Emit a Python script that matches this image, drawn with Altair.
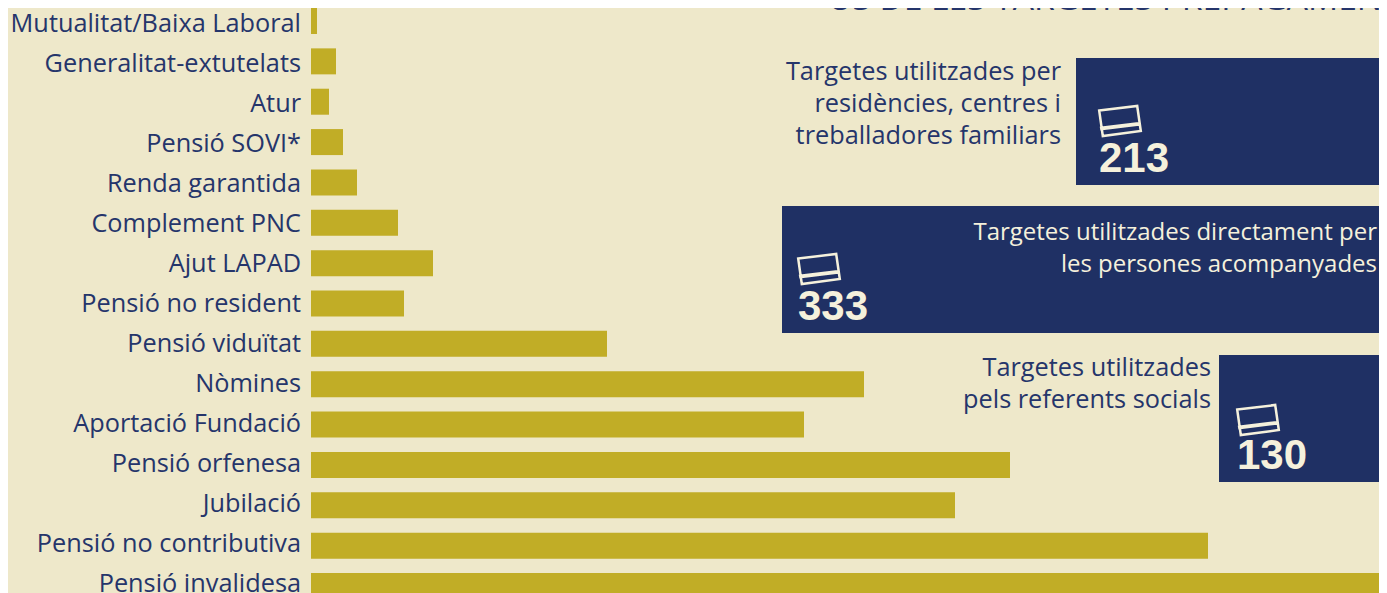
import altair as alt
import pandas as pd

categories = ["Mutualitat/Baixa Laboral", "Generalitat-extutelats", "Atur", "Pensió SOVI*",
              "Renda garantida", "Complement PNC", "Ajut LAPAD", "Pensió no resident",
              "Pensió viduïtat", "Nòmines", "Aportació Fundació", "Pensió orfenesa",
              "Jubilació", "Pensió no contributiva", "Pensió invalidesa"]
values = [6, 25, 18, 32, 46, 87, 122, 93, 296, 553, 493, 699, 644, 897, 1200]
section_title = "ÚS DE LES TARGETES PREPAGAMENT"
card_texts = ["Targetes utilitzades per\nresidències, centres i\ntreballadores familiars",
              "Targetes utilitzades directament per\nles persones acompanyades",
              "Targetes utilitzades\npels referents socials"]
card_counts = ["213", "333", "130"]

BG = "#EEE8CA"
BAR = "#C1AD26"
NAVY = "#1F3064"
INK = "#25356B"
CREAM = "#F5F1DC"
FONT = "Open Sans"
FS = 25.3
OX, OY = 311, 8   # plot area's origin on the page
RIGHT = 1379      # the page's margin starts here
TOTAL_W, TOTAL_H = RIGHT - OX, 585

CARD = ("M-.52,-.26L.43,-.375L.52,.25L-.43,.375Z"
        "M-.47,.17L.49,.055L.495,.085L-.465,.20Z")

df = pd.DataFrame({"cat": categories, "val": values})

bars = alt.Chart(df).mark_bar(color=BAR, clip=True).encode(
    x=alt.X("val:Q", axis=None, scale=alt.Scale(domain=[0, TOTAL_W], nice=False, zero=True)),
    y=alt.Y("cat:N", sort=categories, title=None, axis=None,
            scale=alt.Scale(domain=categories, range=[-7.18, 598.2], paddingInner=0.356, paddingOuter=0.178)))

labels = alt.Chart(df).mark_text(font=FONT, fontSize=FS, color=INK, align="right", baseline="middle").encode(
    x=alt.value(-10),
    y=alt.Y("cat:N", sort=categories, title=None, axis=None,
            scale=alt.Scale(type="point", domain=categories, range=[16, 576], padding=0)),
    text="cat:N")

one = alt.Chart(pd.DataFrame({"a": [0]}))
layers = [bars, labels]

def px(v):  # page x to plot x
    return v - OX

def py(v):
    return v - OY

layers.append(one.mark_text(text=section_title, font=FONT, fontSize=33.5, color=INK, align="left",
                            baseline="alphabetic").encode(x=alt.value(px(828)), y=alt.value(py(10))))

boxes = [(1076, 58, 1061, 80, 1099, 121, 0), (782, 206, 1377, 240, 798, 269, 1), (1219, 355, 1211, 376, 1237, 420, 2)]
for bx, by, tx, ty, nx, ic, i in boxes:
    layers.append(one.mark_rect(color=NAVY).encode(
        x=alt.value(px(bx)), x2=alt.value(px(RIGHT)), y=alt.value(py(by)), y2=alt.value(py(by + 127))))
    layers.append(one.mark_text(text=card_texts[i], lineBreak="\n", lineHeight=32, font=FONT,
                                fontSize=24 if i == 1 else FS,
                                color=CREAM if i == 1 else INK, align="right", baseline="alphabetic").encode(
        x=alt.value(px(tx)), y=alt.value(py(ty))))
    layers.append(one.mark_point(shape=CARD, size=6400, filled=False, stroke=CREAM, strokeWidth=2.5, opacity=1).encode(
        x=alt.value(px(nx + 21)), y=alt.value(py(ic))))
    layers.append(one.mark_text(text=card_counts[i], font="Liberation Sans", fontWeight="bold", fontSize=42,
                                color=CREAM, align="left", baseline="alphabetic").encode(
        x=alt.value(px(nx)), y=alt.value(py(by + 114))))

chart = alt.layer(*layers).resolve_scale(y="independent").properties(
    width=TOTAL_W, height=TOTAL_H, background=BG,
    padding={"left": OX - 8, "top": 0, "right": 0, "bottom": 0},
    autosize=alt.AutoSizeParams(type="none"),
).configure_view(stroke=None)

chart.save("out.html", embed_options={"renderer": "svg", "actions": False})
